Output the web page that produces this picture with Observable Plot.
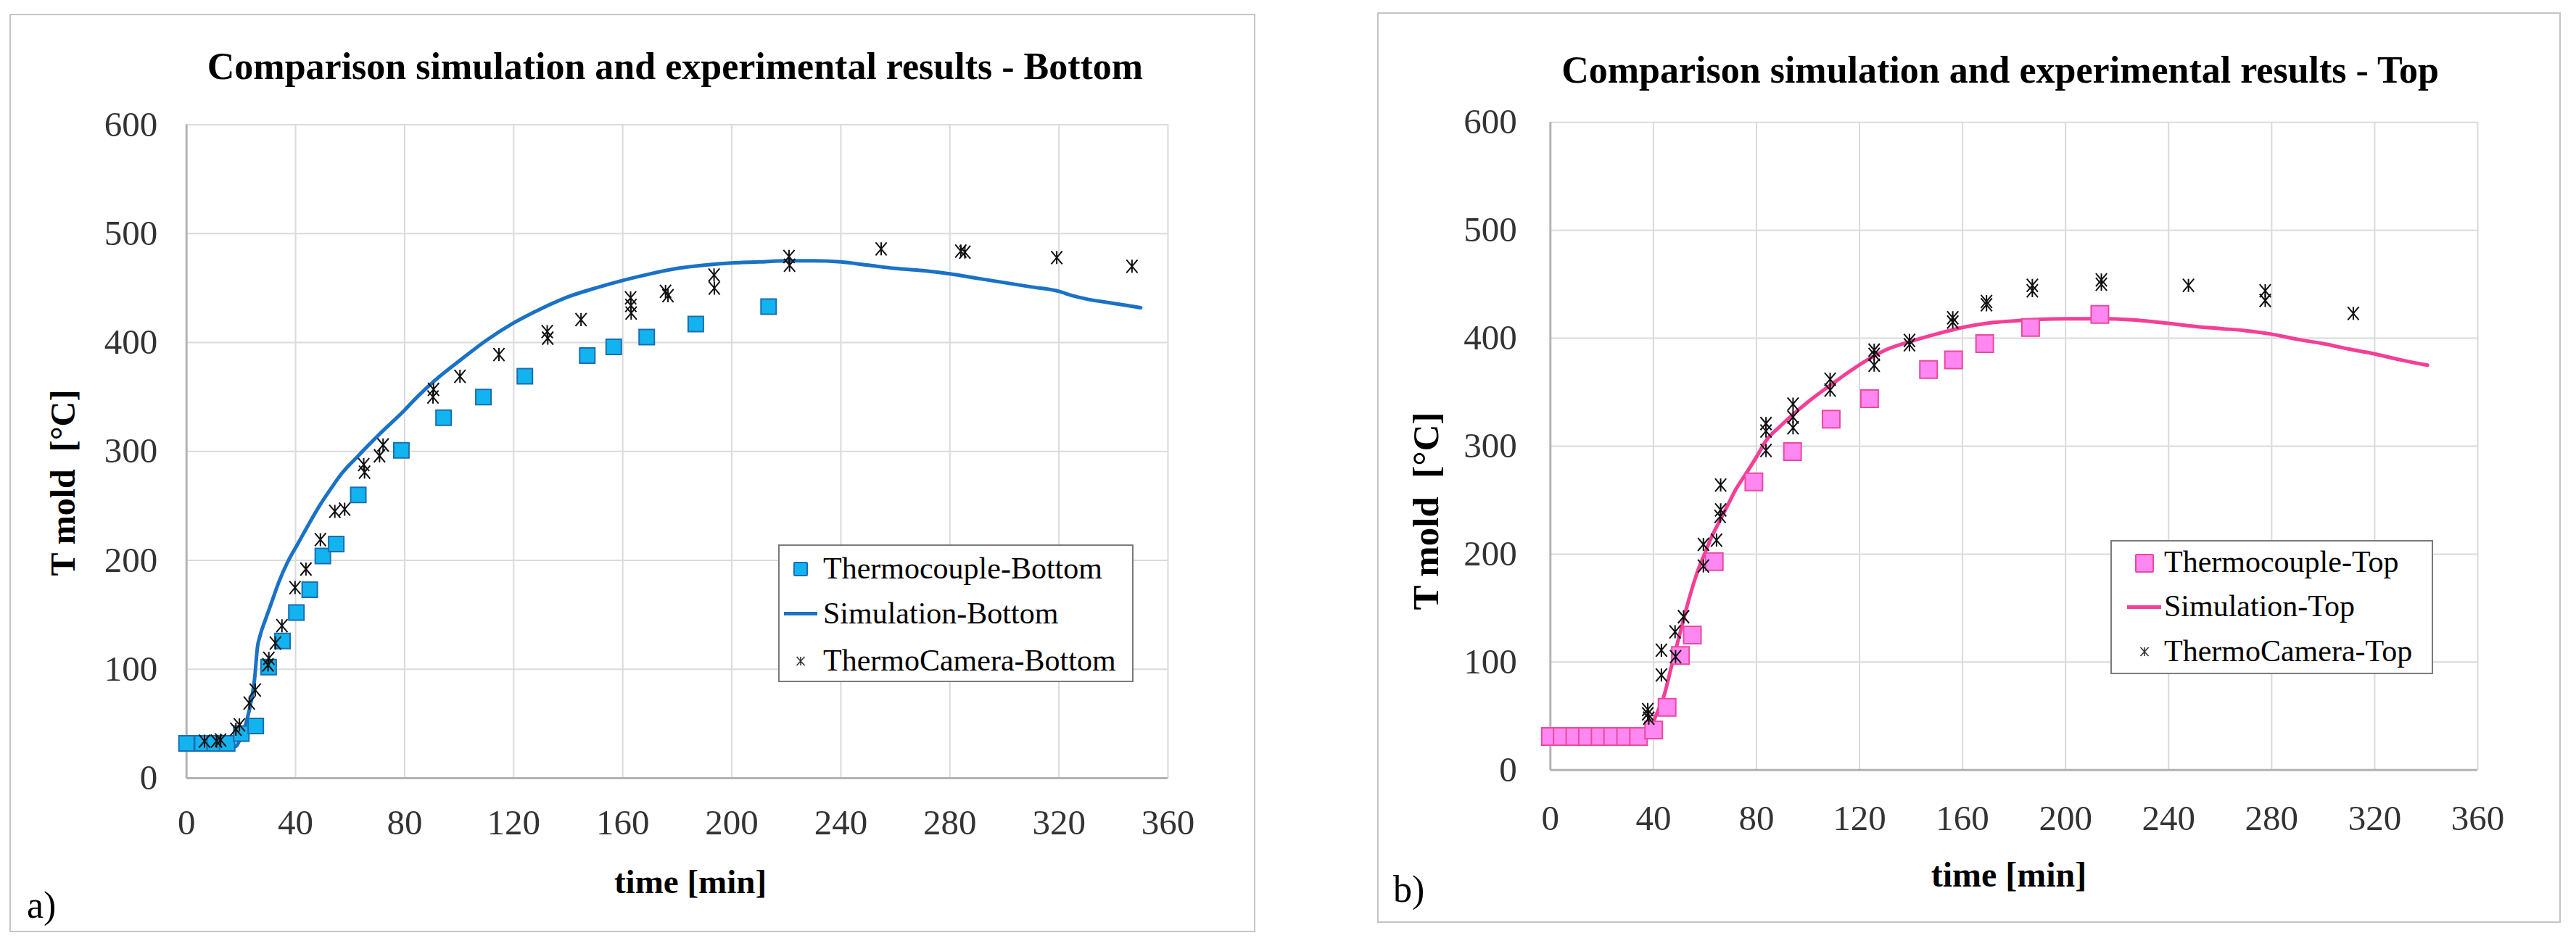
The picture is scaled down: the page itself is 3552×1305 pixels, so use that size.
<!DOCTYPE html>
<html><head><meta charset="utf-8">
<script src="https://cdn.jsdelivr.net/npm/d3@7"></script>
<script src="https://cdn.jsdelivr.net/npm/@observablehq/plot@0.6"></script>
<style>
html,body{margin:0;padding:0;background:#fff;}
#page{position:relative;width:3552px;height:1305px;overflow:hidden;background:#fff;font-family:'Liberation Serif','Times New Roman',serif;color:#000;}
.frame{position:absolute;box-sizing:border-box;border:2px solid #c4c4c4;}
.abs{position:absolute;white-space:pre;}
.legend{position:absolute;box-sizing:border-box;border:2px solid #7a7a7a;background:#fff;}
.plotwrap{position:absolute;top:0;}
.plotwrap svg, .plotwrap svg g, .plotwrap svg text{font-family:'Liberation Serif','Times New Roman',serif !important;}
</style></head><body><div id="page"></div>
<script>
// ---------- data ----------
const xTicks = [0, 40, 80, 120, 160, 200, 240, 280, 320, 360];
const yTicks = [0, 100, 200, 300, 400, 500, 600];

// Bottom (panel a)
const tcBottomTime = [0, 5.8, 10.3, 14.9, 20.1, 25.4, 30.1, 35.2, 40.3, 45.2, 50, 54.9, 63, 78.8, 94.3, 108.9, 124.1, 147, 156.7, 168.8, 186.8, 213.5];
const tcBottomTemp = [32, 32, 32, 32, 41, 48, 102, 126, 152, 173, 204, 215, 260, 301, 331, 350, 369, 388, 396, 405, 417, 433];

const simBottomTime = [0, 5, 10, 15, 18, 20, 22, 24, 25, 26, 27, 29, 31, 34, 37, 41, 45, 49, 53, 57, 63, 70, 80, 85, 91, 100, 110, 120, 130, 140, 150, 160, 170, 180, 190, 200, 210, 220, 230, 240, 250, 260, 270, 280, 290, 300, 310, 320, 325, 330, 340, 350];
const simBottomTemp = [28, 28, 28, 28, 29, 38, 52, 75, 92, 120, 131, 146, 160, 181, 198, 216, 234, 251, 266, 280, 296, 314, 338, 351, 365, 383, 402, 418, 431, 442, 450, 457, 463, 468, 471, 473, 474, 475, 475, 474, 471, 468, 466, 463, 459, 455, 451, 447, 443, 440, 436, 432];

const camBottomTime = [6.6, 11, 12.5, 18.1, 19.4, 23, 25.2, 29.9, 30.2, 32.6, 35, 39.8, 43.8, 49.1, 54.4, 58, 65, 65.3, 70.8, 72.1, 90.4, 90.6, 100.3, 114.6, 132.3, 132.5, 144.7, 162.9, 163, 163.1, 175.7, 176.6, 193.5, 193.6, 221, 221.2, 254.8, 284, 285.5, 319.2, 346.8];
const camBottomTemp = [34, 34, 35, 45, 49, 69, 81, 104, 110, 124, 140, 175, 192, 219, 245, 247, 288, 281, 296, 306, 350, 357, 369, 389, 410, 404, 421, 441, 434, 427, 447, 443, 462, 450, 479, 471, 486, 484, 483, 478, 470];

// Top (panel b)
const tcTopTime = [0, 4.6, 9.5, 14.4, 19.3, 24.2, 29.2, 34.2, 40.1, 45.3, 50.5, 55.1, 63.6, 79, 94, 109, 123.9, 146.8, 156.5, 168.6, 186.4, 213.3];
const tcTopTemp = [31, 31, 31, 31, 31, 31, 31, 31, 37, 58, 106, 125, 193, 267, 295, 325, 344, 371, 380, 395, 410, 422];

const simTopTime = [0, 10, 20, 30, 36, 38, 40, 42, 44, 47, 51, 54, 57, 60, 62.6, 66, 69.2, 72, 75.8, 80, 84, 89, 94, 100, 109, 116, 123.8, 130, 139.8, 150, 160, 170, 180, 190, 200, 213, 226, 239, 250, 260, 270, 279.4, 290, 300, 310, 319, 330, 340.5];
const simTopTemp = [30, 30, 30, 30, 31, 35, 45, 56, 68, 96, 133, 160, 183, 201, 216, 232, 247, 260, 274, 290, 306, 318, 329, 341, 357, 369, 381, 389, 397, 404, 410, 414, 416, 417.5, 418, 418, 417, 414, 411, 409, 407, 404, 399, 395, 390, 386, 380, 375];

const camTopTime = [37.8, 37.8, 38.2, 43.1, 43.1, 48.6, 48.4, 51.7, 59.4, 59.4, 64.5, 65.9, 66.1, 66.1, 83.7, 83.7, 83.7, 94.2, 94.2, 94.2, 108.6, 108.6, 125.7, 125.7, 125.7, 139.4, 139.4, 156.2, 156.2, 169.3, 169.3, 187.1, 187.1, 213.9, 213.9, 247.7, 277.5, 277.5, 311.7];
const camTopTemp = [56, 52, 48, 111, 88, 105, 128, 142, 189, 209, 213, 235, 241, 264, 321, 314, 296, 339, 327, 317, 362, 352, 389, 385, 375, 398, 394, 419, 415, 434, 431, 449, 444, 454, 450, 449, 444, 435, 423];

const titles = ["Comparison simulation and experimental results - Bottom", "Comparison simulation and experimental results - Top"];
const legendBottom = ["Thermocouple-Bottom", "Simulation-Bottom", "ThermoCamera-Bottom"];
const legendTop = ["Thermocouple-Top", "Simulation-Top", "ThermoCamera-Top"];
const xTitle = "time [min]";
const yTitle = "T mold  [°C]";

// ---------- helpers ----------
const zip = (ts, vs) => ts.map((t, i) => ({t, v: vs[i]}));
const FONT = "'Liberation Serif','Times New Roman',serif";
const page = document.getElementById("page");

const squareSym = {draw(ctx, size) { const r = Math.sqrt(size / Math.PI); ctx.rect(-r, -r, 2 * r, 2 * r); }};
const starSym = {draw(ctx, size) {
  const r = Math.sqrt(size / Math.PI); const w = r * 0.85;
  ctx.moveTo(-w, -r); ctx.lineTo(w, r);
  ctx.moveTo(w, -r); ctx.lineTo(-w, r);
  ctx.moveTo(0, -r); ctx.lineTo(0, r);
}};

function addText(str, {x, baseline, size, weight = "normal", anchor = "middle"}) {
  const d = document.createElement("div");
  d.className = "abs";
  d.textContent = str;
  d.style.fontSize = size + "px";
  d.style.lineHeight = size + "px";
  d.style.fontWeight = weight;
  d.style.top = (baseline - 0.8375 * size) + "px";
  d.style.left = x + "px";
  if (anchor === "middle") d.style.transform = "translateX(-50%)";
  page.appendChild(d);
  return d;
}
function addVText(str, {cx, cy, size, weight = "bold"}) {
  const d = document.createElement("div");
  d.className = "abs";
  d.textContent = str;
  d.style.fontSize = size + "px";
  d.style.lineHeight = size + "px";
  d.style.fontWeight = weight;
  d.style.left = cx + "px";
  d.style.top = cy + "px";
  d.style.transform = "translate(-50%,-50%) rotate(-90deg)";
  page.appendChild(d);
}
function addFrame(l, t, w, h) {
  const d = document.createElement("div");
  d.className = "frame";
  Object.assign(d.style, {left: l + "px", top: t + "px", width: w + "px", height: h + "px"});
  page.appendChild(d);
}

function makePanel(cfg) {
  const plot = Plot.plot({
    width: cfg.width, height: 1305,
    marginLeft: cfg.x0 - cfg.left, marginRight: cfg.left + cfg.width - cfg.x1,
    marginTop: cfg.y1, marginBottom: 1305 - cfg.y0,
    style: {background: "transparent", fontFamily: FONT, fontSize: "49px", color: "#333", overflow: "visible", maxWidth: "none"},
    x: {domain: [0, 360], ticks: xTicks, tickSize: 0, tickPadding: cfg.xPad, label: null},
    y: {domain: [0, 600], ticks: yTicks, tickSize: 0, tickPadding: cfg.yPad, label: null},
    marks: [
      Plot.ruleX(xTicks.slice(1), {stroke: "#dadada", strokeWidth: 2}),
      Plot.ruleY(yTicks.slice(1), {stroke: "#dadada", strokeWidth: 2}),
      Plot.ruleX([0], {stroke: "#b3b3b3", strokeWidth: 3}),
      Plot.ruleY([0], {stroke: "#b3b3b3", strokeWidth: 3}),
      Plot.line(cfg.sim, {x: "t", y: "v", stroke: cfg.lineColor, strokeWidth: 5, curve: "monotone-x"}),
      Plot.dot(cfg.tc, {x: "t", y: "v", symbol: squareSym, r: cfg.sq, fill: cfg.sqFill, stroke: cfg.sqStroke, strokeWidth: 2}),
      Plot.dot(cfg.cam, {x: "t", y: "v", symbol: starSym, r: 9, fill: "none", stroke: "#111", strokeWidth: 2})
    ]
  });
  // make sure tick labels use the serif face
  plot.querySelectorAll("g, text").forEach(el => {
    el.removeAttribute("font-family");
    el.style.fontFamily = FONT;
  });
  plot.querySelectorAll("text").forEach(el => {
    el.setAttribute("font-family", "Liberation Serif");
    el.style.fontSize = "49px";
    el.style.fill = "#333";
  });
  const wrap = document.createElement("div");
  wrap.className = "plotwrap";
  wrap.style.left = cfg.left + "px";
  wrap.appendChild(plot);
  page.appendChild(wrap);
}

function makeLegend(cfg) {
  const box = document.createElement("div");
  box.className = "legend";
  Object.assign(box.style, {left: cfg.l + "px", top: cfg.t + "px", width: (cfg.r - cfg.l) + "px", height: (cfg.b - cfg.t) + "px"});
  page.appendChild(box);
  cfg.labels.forEach((lab, i) => {
    addText(lab, {x: cfg.textX, baseline: cfg.baselines[i], size: 42, anchor: "start"});
  });
  const sq = document.createElement("div");
  Object.assign(sq.style, {position: "absolute", boxSizing: "border-box", left: (cfg.markX - cfg.sqSize / 2) + "px", top: (cfg.rows[0] - cfg.sqSize / 2) + "px",
    width: cfg.sqSize + "px", height: cfg.sqSize + "px", background: cfg.sqFill, border: "2px solid " + cfg.sqStroke, borderRadius: "2px"});
  page.appendChild(sq);
  const ln = document.createElement("div");
  Object.assign(ln.style, {position: "absolute", left: cfg.lineX0 + "px", top: (cfg.rows[1] - 2.5) + "px", width: (cfg.lineX1 - cfg.lineX0) + "px", height: "5px", background: cfg.lineColor});
  page.appendChild(ln);
  const ns = "http://www.w3.org/2000/svg";
  const s = document.createElementNS(ns, "svg");
  s.setAttribute("width", 24); s.setAttribute("height", 24);
  s.style.position = "absolute"; s.style.left = (cfg.markX - 12) + "px"; s.style.top = (cfg.rows[2] - 12) + "px";
  const p = document.createElementNS(ns, "path");
  p.setAttribute("d", "M6.5,6 L17.5,18 M17.5,6 L6.5,18 M12,6 L12,18");
  p.setAttribute("stroke", "#333"); p.setAttribute("stroke-width", "1.6"); p.setAttribute("fill", "none");
  s.appendChild(p);
  page.appendChild(s);
}

// ---------- frames ----------
addFrame(13, 19, 1718, 1267);
addFrame(1899, 17, 1632, 1256);

// ---------- panel a ----------
makePanel({left: 0, width: 1745, x0: 256.7, x1: 1610, y0: 1073, y1: 171.5, xPad: 43, yPad: 40,
  sim: zip(simBottomTime, simBottomTemp), tc: zip(tcBottomTime, tcBottomTemp), cam: zip(camBottomTime, camBottomTemp),
  lineColor: "#1a72c6", sqFill: "#12b4ef", sqStroke: "#1b6db3", sq: 10.5});
addText(titles[0], {x: 931, baseline: 110, size: 52, weight: "bold"});
addText(xTitle, {x: 952, baseline: 1232, size: 47, weight: "bold"});
addVText(yTitle, {cx: 87, cy: 666, size: 48});
addText("a)", {x: 37, baseline: 1267, size: 52, anchor: "start"});
makeLegend({l: 1073, t: 751, r: 1563, b: 941, textX: 1135, baselines: [798, 860, 925], rows: [785, 846, 912],
  labels: legendBottom, markX: 1104, sqSize: 20, lineX0: 1081, lineX1: 1127,
  sqFill: "#12b4ef", sqStroke: "#1b6db3", lineColor: "#1a72c6"});

// ---------- panel b ----------
makePanel({left: 1760, width: 1792, x0: 2137.3, x1: 3416, y0: 1061.7, y1: 168.3, xPad: 48, yPad: 46,
  sim: zip(simTopTime, simTopTemp), tc: zip(tcTopTime, tcTopTemp), cam: zip(camTopTime, camTopTemp),
  lineColor: "#f43f96", sqFill: "#ff87f2", sqStroke: "#ea4a9e", sq: 12});
addText(titles[1], {x: 2758, baseline: 115, size: 52, weight: "bold"});
addText(xTitle, {x: 2770, baseline: 1223, size: 48, weight: "bold"});
addVText(yTitle, {cx: 1966, cy: 705, size: 51});
addText("b)", {x: 1921, baseline: 1245, size: 52, anchor: "start"});
makeLegend({l: 2910, t: 745, r: 3355, b: 930, textX: 2984, baselines: [789, 850, 912], rows: [777, 837, 899],
  labels: legendTop, markX: 2957, sqSize: 26, lineX0: 2933, lineX1: 2980,
  sqFill: "#ff87f2", sqStroke: "#ea4a9e", lineColor: "#f43f96"});
</script>
</body></html>
